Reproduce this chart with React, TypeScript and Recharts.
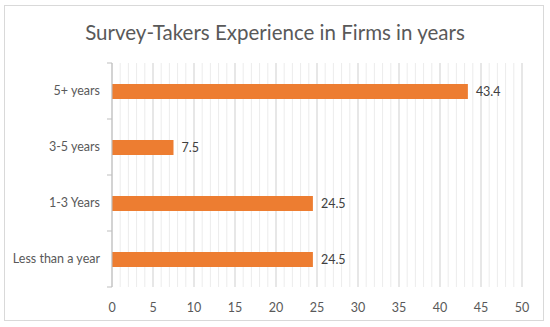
import React from 'react';
import { BarChart, Bar, XAxis, YAxis, CartesianGrid, LabelList } from 'recharts';

const categories = ['5+ years', '3-5 years', '1-3 Years', 'Less than a year'];
const values = [43.4, 7.5, 24.5, 24.5];
const xTicks = [0, 5, 10, 15, 20, 25, 30, 35, 40, 45, 50];
const minorTicks = Array.from({ length: 51 }, (_, i) => i);

const data = categories.map((name, i) => ({ name, value: values[i] }));

const FONT = 'Lato, "Open Sans", sans-serif';

// label plus small tick marks at the category boundaries
const YTick = (props: any) => {
  const { x, y, payload, index } = props;
  return (
    <g>
      <text x={x - 4} y={y} dy={4} textAnchor="end" fill="#595959" fontSize={12.5} fontFamily={FONT}>
        {payload.value}
      </text>
      <line x1={x + 3} x2={x + 8} y1={y + 28} y2={y + 28} stroke="#bfbfbf" />
      {index === 0 && <line x1={x + 3} x2={x + 8} y1={y - 28} y2={y - 28} stroke="#bfbfbf" />}
    </g>
  );
};

const gridGen = (list: number[]) => (args: any) => {
  const { xAxis, offset } = args;
  if (xAxis && typeof xAxis.scale === 'function') return list.map((t) => xAxis.scale(t));
  return list.map((t) => offset.left + (t / 50) * offset.width);
};

export default function App() {
  return (
    <div style={{ position: 'fixed', left: 0, top: 0, width: 550, height: 327, background: '#fff' }}>
      <div
        style={{
          position: 'absolute', left: 4, top: 5, width: 540, height: 316,
          border: '1px solid #d9d9d9', boxSizing: 'border-box',
        }}
      />
      <div
        style={{
          position: 'absolute', left: 0, top: 20, width: 550, textAlign: 'center',
          fontFamily: FONT, fontSize: 20.5, color: '#595959',
        }}
      >
        Survey-Takers Experience in Firms in years
      </div>
      <BarChart
        width={550}
        height={327}
        data={data}
        layout="vertical"
        margin={{ top: 63, right: 28, bottom: 10, left: 0 }}
        style={{ position: 'absolute', left: 0, top: 0 }}
      >
        <CartesianGrid
          horizontal={false}
          stroke="#ececec"
          verticalCoordinatesGenerator={gridGen(minorTicks)}
        />
        <CartesianGrid
          horizontal={false}
          stroke="#d9d9d9"
          verticalCoordinatesGenerator={gridGen(xTicks)}
        />
        <XAxis
          type="number"
          domain={[0, 50]}
          ticks={xTicks}
          axisLine={false}
          tickLine={false}
          height={30}
          tick={{ fill: '#595959', fontSize: 12.5, fontFamily: FONT }}
          tickMargin={10}
          interval={0}
        />
        <YAxis
          type="category"
          dataKey="name"
          width={112}
          axisLine={{ stroke: '#bfbfbf' }}
          tickLine={false}
          tick={<YTick />}
        />
        <Bar dataKey="value" fill="#ED7D31" barSize={15} isAnimationActive={false}>
          <LabelList dataKey="value" position="right" offset={8} fill="#404040" fontSize={12.5} fontFamily={FONT} />
        </Bar>
      </BarChart>
    </div>
  );
}
